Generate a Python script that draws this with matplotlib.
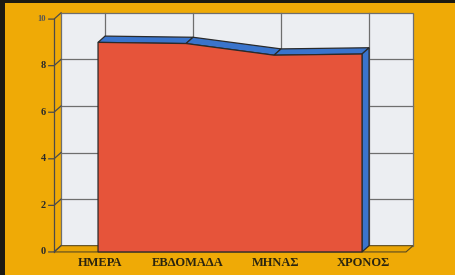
import numpy as np
import matplotlib
matplotlib.use("Agg")
import matplotlib.pyplot as plt
from matplotlib.patches import Polygon, Rectangle

# --- Data ---
categories = ["ΗΜΕΡΑ", "ΕΒΔΟΜΑΔΑ", "ΜΗΝΑΣ", "ΧΡΟΝΟΣ"]
values = [9.0, 8.95, 8.45, 8.5]
yticks = [0, 2, 4, 6, 8, 10]

# --- Styling ---
bg = "#EFAA06"
wall_col = "#ECEEF2"
grid_col = "#6E6E6E"
red = "#E6543A"
blue = "#3A74CC"
edge = "#2A2A2A"
dx, dy = 0.08, 0.27   # oblique depth offset (category units, value units)

fig = plt.figure(figsize=(4.56, 2.75), dpi=100, facecolor=bg)
ax = fig.add_axes([0, 0, 1, 1])
ax.set_facecolor(bg)
ax.set_xlim(-1.114, 4.068)
ax.set_ylim(-0.99, 10.82)
ax.axis("off")

n = len(values)
x = np.arange(n)
x0, x1 = -0.5, n - 0.5
ymax = yticks[-1]

# back wall
ax.add_patch(Polygon([(x0 + dx, dy), (x1 + dx, dy), (x1 + dx, ymax + dy), (x0 + dx, ymax + dy)],
                     closed=True, fc=wall_col, ec=grid_col, lw=0.9, zorder=1))
for t in yticks[1:-1]:
    ax.plot([x0 + dx, x1 + dx], [t + dy, t + dy], color=grid_col, lw=0.9, zorder=2)
for xi in x:
    ax.plot([xi + dx, xi + dx], [dy, ymax + dy], color=grid_col, lw=0.9, zorder=2)

# floor
ax.add_patch(Polygon([(x0, 0), (x1, 0), (x1 + dx, dy), (x0 + dx, dy)],
                     closed=True, fc="#E9A404", ec="#5a4a20", lw=0.8, zorder=2))

# front value axis with ticks and slanted side lines
ax.plot([x0, x0], [0, ymax], color="#4a4a4a", lw=0.9, zorder=3)
for t in yticks:
    ax.plot([x0 - 0.06, x0, x0 + dx], [t, t, t + dy], color="#4a4a4a", lw=0.9, zorder=3)
    ax.text(x0 - 0.09, t, str(t), ha="right", va="center", fontsize=7.5 if t < 10 else 6,
            fontweight="bold", family="Liberation Serif", color="#2a2a2a" if t < 10 else "#555555")

# area: top faces and right side
for i in range(n - 1):
    ax.add_patch(Polygon([(x[i], values[i]), (x[i + 1], values[i + 1]),
                          (x[i + 1] + dx, values[i + 1] + dy), (x[i] + dx, values[i] + dy)],
                         closed=True, fc=blue, ec=edge, lw=0.9, zorder=4))
ax.add_patch(Polygon([(x[-1], 0), (x[-1], values[-1]), (x[-1] + dx, values[-1] + dy), (x[-1] + dx, dy)],
                     closed=True, fc=blue, ec=edge, lw=0.9, zorder=4))

# area: front face
front = [(x[0], 0)] + list(zip(x, values)) + [(x[-1], 0)]
ax.add_patch(Polygon(front, closed=True, fc=red, ec=edge, lw=0.9, zorder=5))

# category labels
for xi, lab in zip(x, categories):
    ax.text(xi + 0.02, -0.48, lab, ha="center", va="center", fontsize=9, fontweight="bold",
            family="Liberation Serif", color="#2a2410")

# dark photo border at top and left
fig.patches.append(Rectangle((0, 0.988), 1, 0.012, transform=fig.transFigure, fc="#1c1a12", ec="none"))
fig.patches.append(Rectangle((0, 0), 0.011, 1, transform=fig.transFigure, fc="#1c1a12", ec="none"))

fig.savefig("out.png", dpi=100, facecolor=bg)
